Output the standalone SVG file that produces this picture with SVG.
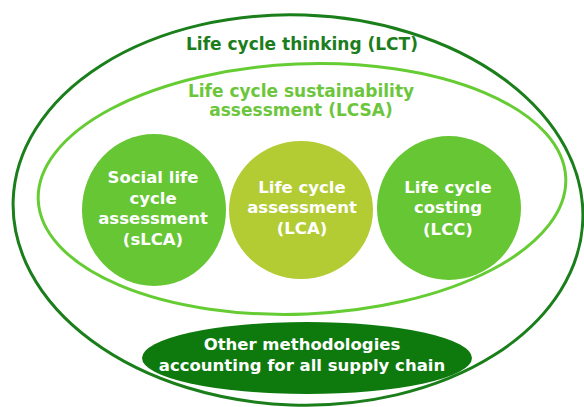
<svg xmlns="http://www.w3.org/2000/svg" width="584" height="407" viewBox="0 0 584 407">
<style>
text{font-family:"DejaVu Sans","Verdana",sans-serif;font-weight:bold;text-anchor:middle}
.w{fill:#ffffff;font-size:16.5px}
.lct{fill:#1b7d1b;font-size:17px}
.lcsa{fill:#6cc63c;font-size:17px}
.g{fill:#66c633}
</style>
<rect width="584" height="407" fill="#ffffff"/>
<g id="lct">
<ellipse cx="298" cy="210" rx="285" ry="195" transform="rotate(2 298 210)" fill="none" stroke="#1a7f1a" stroke-width="3"/>
<text class="lct" x="302" y="50">Life cycle thinking (LCT)</text>
</g>
<g id="lcsa">
<ellipse cx="302" cy="189" rx="264" ry="125" transform="rotate(-2.4 302 189)" fill="none" stroke="#66cc33" stroke-width="3"/>
<text class="lcsa" x="301" y="97">Life cycle sustainability</text>
<text class="lcsa" x="301" y="116">assessment (LCSA)</text>
</g>
<g id="slca">
<ellipse class="g" cx="154" cy="210" rx="72" ry="76"/>
<text class="w" x="153" y="183">Social life</text>
<text class="w" x="153" y="204">cycle</text>
<text class="w" x="153" y="224">assessment</text>
<text class="w" x="153" y="245">(sLCA)</text>
</g>
<g id="lca">
<ellipse cx="301" cy="210" rx="72" ry="69" fill="#b3cc33"/>
<text class="w" x="302" y="193">Life cycle</text>
<text class="w" x="302" y="213">assessment</text>
<text class="w" x="302" y="234">(LCA)</text>
</g>
<g id="lcc">
<ellipse class="g" cx="449" cy="208" rx="72" ry="72"/>
<text class="w" x="448" y="193">Life cycle</text>
<text class="w" x="448" y="213">costing</text>
<text class="w" x="448" y="235">(LCC)</text>
</g>
<g id="other">
<ellipse cx="307" cy="358" rx="165" ry="36" fill="#0e7a0e"/>
<text class="w" x="302" y="350">Other methodologies</text>
<text class="w" x="302" y="371">accounting for all supply chain</text>
</g>
<g id="connectors"/>
</svg>
